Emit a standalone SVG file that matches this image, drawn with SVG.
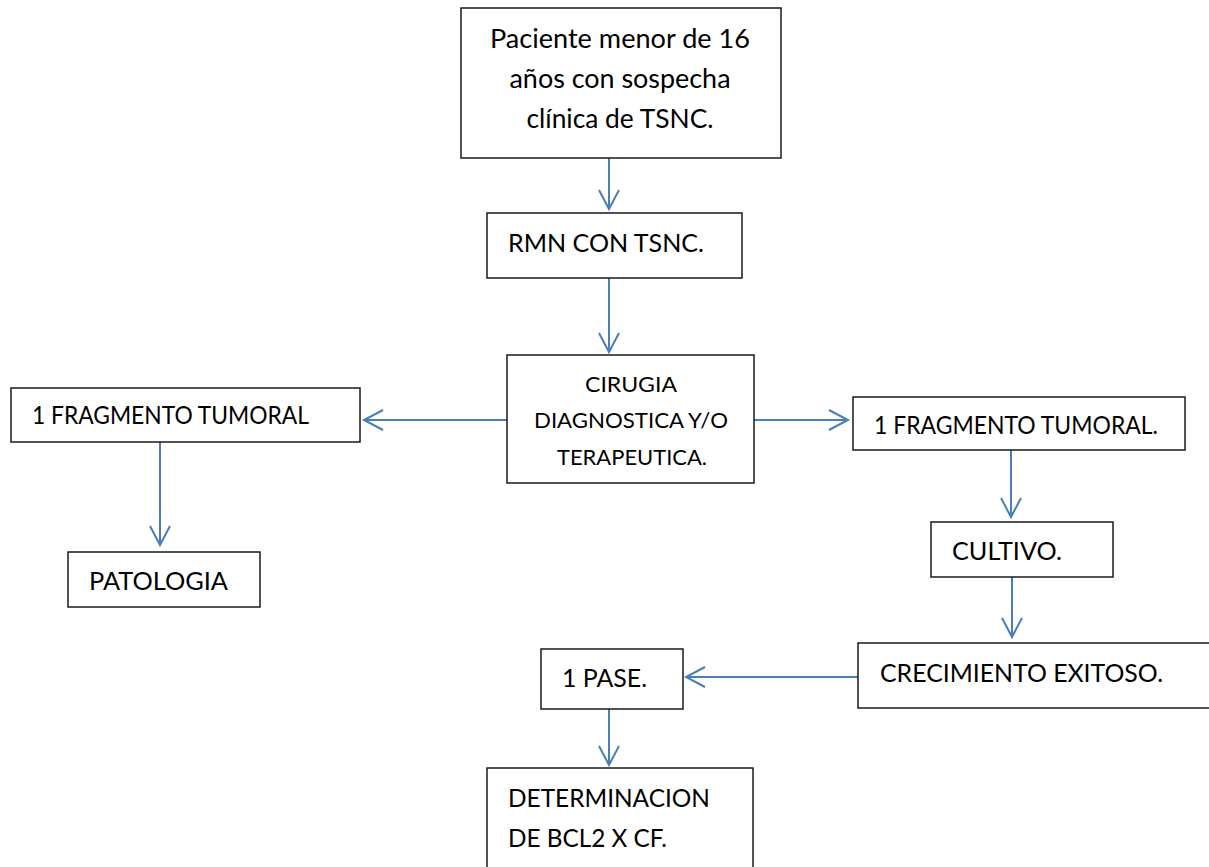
<svg xmlns="http://www.w3.org/2000/svg" width="1209" height="867" viewBox="0 0 1209 867">
<style>
.box{fill:#ffffff;stroke:#1a1a1a;stroke-width:1.5}
.t{font-family:Lato,"Liberation Sans",sans-serif;font-size:25.5px;fill:#000}
.tb{font-size:26.5px}
.ts{font-size:21.5px}
.c{fill:none;stroke:#4a7ebb;stroke-width:2}
</style>
<defs>
<marker id="ah" markerUnits="userSpaceOnUse" markerWidth="30" markerHeight="30" orient="auto" overflow="visible">
<path d="M-19,-10 L0,0 L-19,10" fill="none" stroke="#4a7ebb" stroke-width="2"/>
</marker>
</defs>
<rect width="1209" height="867" fill="#ffffff"/>
<g id="connectors">
<line class="c" x1="609" y1="158" x2="609" y2="209" marker-end="url(#ah)"/>
<line class="c" x1="609" y1="278" x2="609" y2="352" marker-end="url(#ah)"/>
<line class="c" x1="507" y1="420" x2="364" y2="420" marker-end="url(#ah)"/>
<line class="c" x1="754" y1="420" x2="848" y2="420" marker-end="url(#ah)"/>
<line class="c" x1="160" y1="442" x2="160" y2="545" marker-end="url(#ah)"/>
<line class="c" x1="1011" y1="450" x2="1011" y2="517" marker-end="url(#ah)"/>
<line class="c" x1="1012" y1="577" x2="1012" y2="637" marker-end="url(#ah)"/>
<line class="c" x1="858" y1="677" x2="686" y2="677" marker-end="url(#ah)"/>
<line class="c" x1="609" y1="709" x2="609" y2="765" marker-end="url(#ah)"/>
</g>
<g id="n-paciente">
<rect class="box" x="461" y="8" width="320" height="150"/>
<text class="t tb" x="620" y="48" text-anchor="middle" textLength="260" lengthAdjust="spacingAndGlyphs">Paciente menor de 16</text>
<text class="t tb" x="620" y="88" text-anchor="middle" textLength="221" lengthAdjust="spacingAndGlyphs">años con sospecha</text>
<text class="t tb" x="620" y="128" text-anchor="middle" textLength="187" lengthAdjust="spacingAndGlyphs">clínica de TSNC.</text>
</g>
<g id="n-rmn">
<rect class="box" x="487" y="213" width="255" height="65"/>
<text class="t" x="508" y="252" textLength="196" lengthAdjust="spacingAndGlyphs">RMN CON TSNC.</text>
</g>
<g id="n-cirugia">
<rect class="box" x="507" y="355" width="247" height="128"/>
<text class="t ts" x="631" y="392" text-anchor="middle" textLength="92" lengthAdjust="spacingAndGlyphs">CIRUGIA</text>
<text class="t ts" x="631" y="428" text-anchor="middle" textLength="194" lengthAdjust="spacingAndGlyphs">DIAGNOSTICA Y/O</text>
<text class="t ts" x="632" y="465" text-anchor="middle" textLength="150" lengthAdjust="spacingAndGlyphs">TERAPEUTICA.</text>
</g>
<g id="n-frag-left">
<rect class="box" x="11" y="388" width="349" height="54"/>
<text class="t" x="32" y="424" textLength="277" lengthAdjust="spacingAndGlyphs">1 FRAGMENTO TUMORAL</text>
</g>
<g id="n-patologia">
<rect class="box" x="68" y="552" width="192" height="55"/>
<text class="t" x="89" y="590" textLength="139" lengthAdjust="spacingAndGlyphs">PATOLOGIA</text>
</g>
<g id="n-frag-right">
<rect class="box" x="853" y="397" width="332" height="53"/>
<text class="t" x="874" y="434" textLength="284" lengthAdjust="spacingAndGlyphs">1 FRAGMENTO TUMORAL.</text>
</g>
<g id="n-cultivo">
<rect class="box" x="931" y="522" width="182" height="55"/>
<text class="t" x="952" y="560" textLength="110" lengthAdjust="spacingAndGlyphs">CULTIVO.</text>
</g>
<g id="n-crecimiento">
<rect class="box" x="858" y="643" width="360" height="65"/>
<text class="t" x="880" y="682" textLength="283" lengthAdjust="spacingAndGlyphs">CRECIMIENTO EXITOSO.</text>
</g>
<g id="n-pase">
<rect class="box" x="541" y="649" width="142" height="60"/>
<text class="t" x="562" y="687" textLength="85" lengthAdjust="spacingAndGlyphs">1 PASE.</text>
</g>
<g id="n-determinacion">
<rect class="box" x="487" y="768" width="266" height="110"/>
<text class="t" x="508" y="807" textLength="202" lengthAdjust="spacingAndGlyphs">DETERMINACION</text>
<text class="t" x="508" y="847" textLength="159" lengthAdjust="spacingAndGlyphs">DE BCL2 X CF.</text>
</g>
</svg>
